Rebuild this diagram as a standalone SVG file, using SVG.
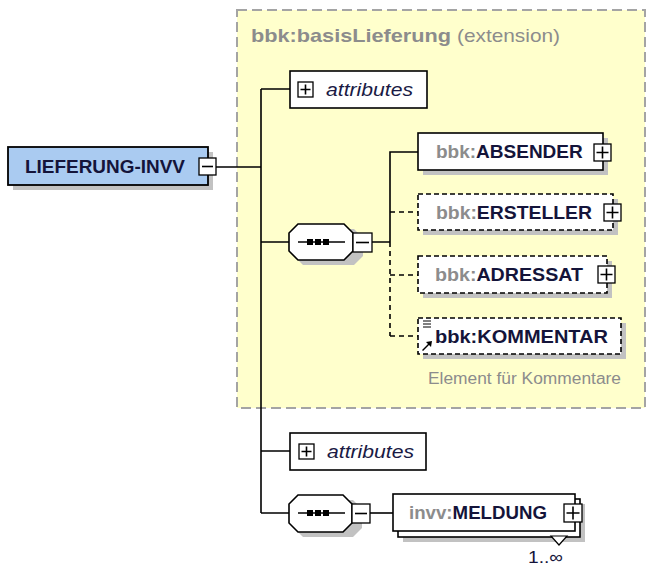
<svg xmlns="http://www.w3.org/2000/svg" width="648" height="572" viewBox="0 0 648 572">
<style>
text{font-family:"Liberation Sans",Arial,sans-serif}
.b{font-weight:bold;font-size:19px;fill:#14143a}
.pre{fill:#8c8c8c}
.it{font-style:italic;font-size:19px;fill:#1a1a44}
.box{fill:#fff;stroke:#000;stroke-width:1.6}
.dbox{fill:#fff;stroke:#000;stroke-width:1.6;stroke-dasharray:5,3}
.sh{fill:#c2c2c2}
.btn{fill:#fff;stroke:#000;stroke-width:1.3}
.ln{stroke:#000;stroke-width:1.6;fill:none}
.dl{stroke:#000;stroke-width:1.6;fill:none;stroke-dasharray:5,4}
.dot{fill:#000}
</style>
<rect width="648" height="572" fill="#fff"/>
<g id="extension">
<rect x="237" y="10" width="408" height="398" fill="#ffffcc" stroke="#a4a4a4" stroke-width="2" stroke-dasharray="10,5"/>
<text x="251" y="42" font-size="19" font-weight="bold" fill="#8c8c8c" textLength="200" lengthAdjust="spacingAndGlyphs">bbk:basisLieferung</text>
<text x="457" y="42" font-size="19" fill="#8c8c8c" textLength="103" lengthAdjust="spacingAndGlyphs">(extension)</text>
</g>
<g id="connectors">
<path class="ln" d="M216 167H261M261 89V513M261 89H290M261 242H289M261 451H290M261 513H289"/>
<path class="ln" d="M372 242H390M390 242V152H418"/>
<path class="dl" d="M390 242V336M390 212H418M390 275H418M390 336H418"/>
<path class="ln" d="M370 513H393"/>
</g>
<g id="LIEFERUNG-INVV">
<rect class="sh" x="13" y="152" width="200" height="38"/>
<rect x="8" y="147" width="200" height="38" fill="#aacbf1" stroke="#000" stroke-width="1.8"/>
<text class="b" x="25" y="173" textLength="160" lengthAdjust="spacingAndGlyphs">LIEFERUNG-INVV</text>
<rect class="btn" x="199" y="158" width="17" height="17"/>
<path class="ln" d="M202 166.5H213" stroke-width="1.3"/>
</g>
<g id="attributes1">
<rect class="box" x="290" y="71" width="137" height="37"/>
<rect class="btn" x="298" y="82" width="15" height="15"/>
<path class="ln" stroke-width="1.3" d="M300.5 89.5H310.5M305.5 84.5V94.5"/>
<text class="it" x="326" y="96" textLength="87" lengthAdjust="spacingAndGlyphs">attributes</text>
</g>
<g id="sequence1">
<path class="sh" d="M303 229H354L363 238V256L354 265H303L294 256V238Z"/>
<path d="M298 224H344L353 233V251L344 260H298L289 251V233Z" fill="#fff" stroke="#000" stroke-width="1.6"/>
<path class="ln" d="M298 242H345"/>
<rect class="dot" x="307" y="239" width="6" height="6"/>
<rect class="dot" x="315" y="239" width="6" height="6"/>
<rect class="dot" x="323" y="239" width="6" height="6"/>
<rect class="btn" x="353" y="233" width="19" height="19"/>
<path class="ln" stroke-width="1.3" d="M356 242.5H369"/>
</g>
<g id="ABSENDER">
<rect class="sh" x="423" y="138" width="185" height="37"/>
<rect class="box" x="418" y="133" width="185" height="37"/>
<text class="b" x="436" y="158"><tspan class="pre">bbk:</tspan>ABSENDER</text>
<rect class="btn" x="594" y="144" width="17" height="17"/>
<path class="ln" stroke-width="1.3" d="M596.5 152.5H608.5M602.5 146.5V158.5"/>
</g>
<g id="ERSTELLER">
<rect class="sh" x="423" y="199" width="195" height="36"/>
<rect class="dbox" x="418" y="194" width="195" height="36"/>
<text class="b" x="436" y="219" textLength="156" lengthAdjust="spacingAndGlyphs"><tspan class="pre">bbk:</tspan>ERSTELLER</text>
<rect class="btn" x="604" y="204" width="17" height="17"/>
<path class="ln" stroke-width="1.3" d="M606.5 212.5H618.5M612.5 206.5V218.5"/>
</g>
<g id="ADRESSAT">
<rect class="sh" x="423" y="261" width="189" height="37"/>
<rect class="dbox" x="418" y="256" width="189" height="37"/>
<text class="b" x="435" y="281" textLength="148" lengthAdjust="spacingAndGlyphs"><tspan class="pre">bbk:</tspan>ADRESSAT</text>
<rect class="btn" x="598" y="266" width="17" height="17"/>
<path class="ln" stroke-width="1.3" d="M600.5 274.5H612.5M606.5 268.5V280.5"/>
</g>
<g id="KOMMENTAR">
<rect class="sh" x="423" y="323" width="203" height="36"/>
<rect class="dbox" x="418" y="318" width="203" height="36"/>
<path stroke="#000" stroke-width="1.2" d="M423 321H431M423 324H431M423 327H431"/>
<path fill="#000" d="M422 350L428 344L426 342L432 341L431 347L429 345L423 351Z"/>
<text class="b" x="435" y="343" textLength="173" lengthAdjust="spacingAndGlyphs">bbk:KOMMENTAR</text>
<text x="428" y="384" font-size="16" fill="#8c8c8c" textLength="193" lengthAdjust="spacingAndGlyphs">Element für Kommentare</text>
</g>
<g id="attributes2">
<rect class="box" x="290" y="433" width="136" height="37"/>
<rect class="btn" x="299" y="444" width="15" height="15"/>
<path class="ln" stroke-width="1.3" d="M301.5 451.5H311.5M306.5 446.5V456.5"/>
<text class="it" x="327" y="458" textLength="87" lengthAdjust="spacingAndGlyphs">attributes</text>
</g>
<g id="sequence2">
<path class="sh" d="M303 500H353L362 509V528L353 537H303L294 528V509Z"/>
<path d="M298 495H343L352 504V523L343 532H298L289 523V504Z" fill="#fff" stroke="#000" stroke-width="1.6"/>
<path class="ln" d="M298 513H345"/>
<rect class="dot" x="307" y="510" width="6" height="6"/>
<rect class="dot" x="315" y="510" width="6" height="6"/>
<rect class="dot" x="323" y="510" width="6" height="6"/>
<rect class="btn" x="352" y="504" width="18" height="19"/>
<path class="ln" stroke-width="1.3" d="M355 513.5H367"/>
</g>
<g id="MELDUNG">
<rect class="sh" x="403" y="504" width="182" height="38"/>
<rect class="box" x="398" y="499" width="182" height="38"/>
<rect class="box" x="393" y="494" width="182" height="37"/>
<text class="b" x="409" y="519" textLength="138" lengthAdjust="spacingAndGlyphs"><tspan class="pre">invv:</tspan>MELDUNG</text>
<rect class="btn" x="564" y="504" width="18" height="18"/>
<path class="ln" stroke-width="1.3" d="M566.5 513H579.5M573 506.5V519.5"/>
<path d="M551 536H567L559 545Z" fill="#fff" stroke="#000" stroke-width="1.2"/>
<text x="528" y="563" font-size="17" fill="#14143a" textLength="35" lengthAdjust="spacingAndGlyphs">1..∞</text>
</g>
</svg>
